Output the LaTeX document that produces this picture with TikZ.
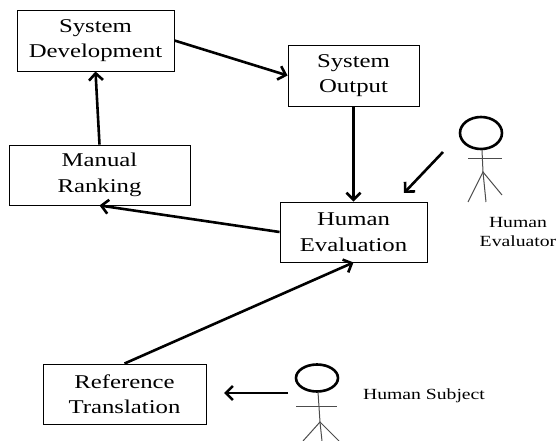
\documentclass[tikz,border=0pt]{standalone}
\usepackage{fontspec}
\setmainfont{Liberation Serif}
\newfontfamily\boxfont[FakeStretch=1.27]{Liberation Serif}
\usetikzlibrary{arrows.meta}
\tikzset{
  box/.style={draw=black, line width=0.9pt, fill=white, align=center, inner sep=0pt,
    font=\boxfont\fontsize{19.5}{25.5}\selectfont},
  arr/.style={line width=2.6pt, -{Straight Barb[length=7pt,width=14pt,line width=2.6pt]}},
  head/.style={line width=2.6pt, draw=black},
  limb/.style={line width=1pt, draw=black!70},
  lbl/.style={align=center, inner sep=0pt, font=\boxfont\fontsize{15.5}{19.5}\selectfont}
}
\begin{document}
\begin{tikzpicture}[x=1pt,y=-1pt]
\useasboundingbox (0,0) rectangle (558,441);
\node[box, minimum width=157pt, minimum height=61pt] (sd) at (95.5,40.5) {System\\Development};
\node[box, minimum width=131pt, minimum height=61pt] (so) at (353.5,75.5) {System\\Output};
\node[box, minimum width=181pt, minimum height=60pt] (mr) at (99.5,175) {Manual\\Ranking};
\node[box, minimum width=147pt, minimum height=60pt] (he) at (353.5,232) {Human\\Evaluation};
\node[box, minimum width=163pt, minimum height=60pt] (rt) at (124.5,394) {Reference\\Translation};

\node[lbl] (hel) at (518,232) {Human\\Evaluator};
\node[lbl] (hsl) at (424,396) {Human Subject};

% Human evaluator figure
\draw[head] (481,133) ellipse [x radius=21, y radius=16];
\coordinate (evneck) at (482,150);
\coordinate (evhip) at (483,172);
\draw[limb] (evneck) -- (evhip);
\draw[limb] (468,159) -- (502,159);
\draw[limb] (468,202) -- (evhip) -- (502,195);
\draw[limb] (evhip) -- (486,202);
\coordinate (evfrom) at (443,152);
\coordinate (evto) at (404,193);

% Human subject figure
\draw[head] (317,378) ellipse [x radius=21, y radius=13.5];
\coordinate (hsneck) at (318,392);
\coordinate (hship) at (320,422);
\draw[limb] (hsneck) -- (hship);
\draw[limb] (296,407) -- (337,407);
\draw[limb] (303,441) -- (hship) -- (339,441);
\draw[limb] (hship) -- (322,441);
\coordinate (hsfrom) at (288,393);
\coordinate (hsto) at (224,393);

% connectors
\draw[arr] (sd.east) -- (so.west);
\draw[arr] (mr.north) -- (sd.south);
\draw[arr] (so.south) -- (he.north);
\draw[arr] (he.west) -- (mr.south);
\draw[arr] (rt.north) -- (he.south);
\draw[arr] (evfrom) -- (evto);
\draw[arr] (hsfrom) -- (hsto);
\end{tikzpicture}
\end{document}
